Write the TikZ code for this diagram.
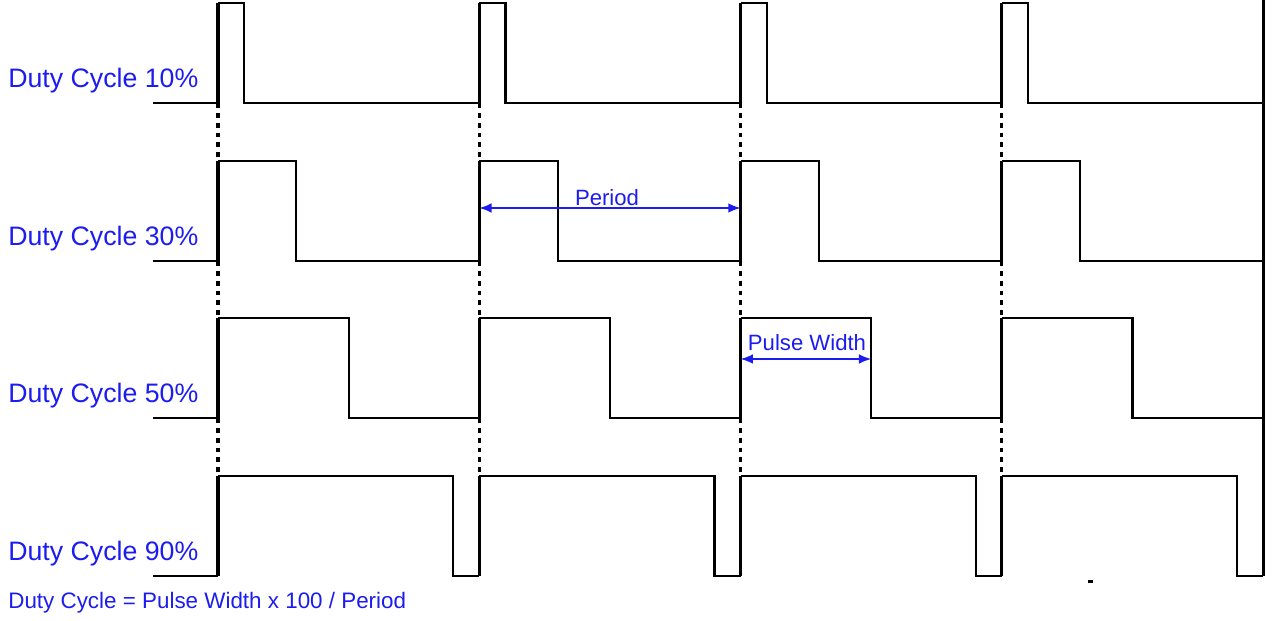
\documentclass[tikz,border=0pt]{standalone}
\usepackage{fontspec}
\setmainfont{Liberation Sans}
\usetikzlibrary{arrows.meta,positioning}
\definecolor{dutyblue}{RGB}{28,28,240}
\newcommand\Period{261.3}
\newcommand\Amp{100}
\tikzset{
  wave/.style={
    line width = 1.25pt,
    line join = miter
  },
  riseedge/.style={
    line width = 1.8pt
  },
  guide/.style={
    line width = 1.8pt,
    dash pattern = on 2.8pt off 2.8pt
  },
  dutylabel/.style={
    anchor = west,
    text = dutyblue,
    font = \fontsize{15.2}{18}\selectfont,
    inner sep = 0pt
  },
  span/.style={
    draw = dutyblue,
    line width = 0.9pt,
    {Latex[length=7pt,width=5.5pt]}-{Latex[length=7pt,width=5.5pt]}
  },
  spanlabel/.style={
    anchor = base,
    text = dutyblue,
    font = \fontsize{12.6}{15}\selectfont,
    inner sep = 0pt
  }
}

\begin{document}
\begin{tikzpicture}[x=0.02cm, y=-0.02cm]
    \useasboundingbox (0,0) rectangle (1275,621);

    % the four wave rows
    \foreach \row/\base/\duty in {a/103/10, b/261/30, c/418/50, d/576/90} {
        \pgfmathsetmacro\w{\duty/100*\Period}
        \node[dutylabel] (lbl-\row) at (8,\base-22) {Duty Cycle \duty\%};
        \draw[wave] (153,\base) -- (218,\base);
        \foreach \k in {0,...,3} {
            \pgfmathsetmacro\xs{218+\k*\Period}
            \draw[wave] (\xs,\base-\Amp) --++ (\w,0) --++ (0,\Amp) -- ({218+(\k+1)*\Period},\base);
            \draw[riseedge] (\xs,\base) --++ (0,-\Amp);
        }
    }
    \draw[riseedge] (218+4*\Period,0) -- (218+4*\Period,576);

    % dashed guides between rows
    \foreach \ya/\yb in {103/161, 261/318, 418/476} {
        \foreach \k in {0,...,3} {
            \draw[guide] (218+\k*\Period,\ya) -- (218+\k*\Period,\yb);
        }
    }

    % period
    \coordinate (per-l) at (218+\Period,208);
    \coordinate (per-r) at (218+2*\Period,208);
    \draw[span] (per-l) -- (per-r);
    \node[spanlabel] (period) at (607,206) {Period};

    % pulse width
    \coordinate (pw-l) at (218+2*\Period,359);
    \coordinate (pw-r) at (218+2.5*\Period,359);
    \draw[span] (pw-l) -- (pw-r);
    \node[spanlabel] (pulse) at (807,351) {Pulse Width};

    \node[dutylabel, font=\fontsize{12.75}{15}\selectfont] (formula) at (8,603) {Duty Cycle = Pulse Width x 100 / Period};

    \fill (1088,579.5) rectangle (1093,582.5);
\end{tikzpicture}
\end{document}
